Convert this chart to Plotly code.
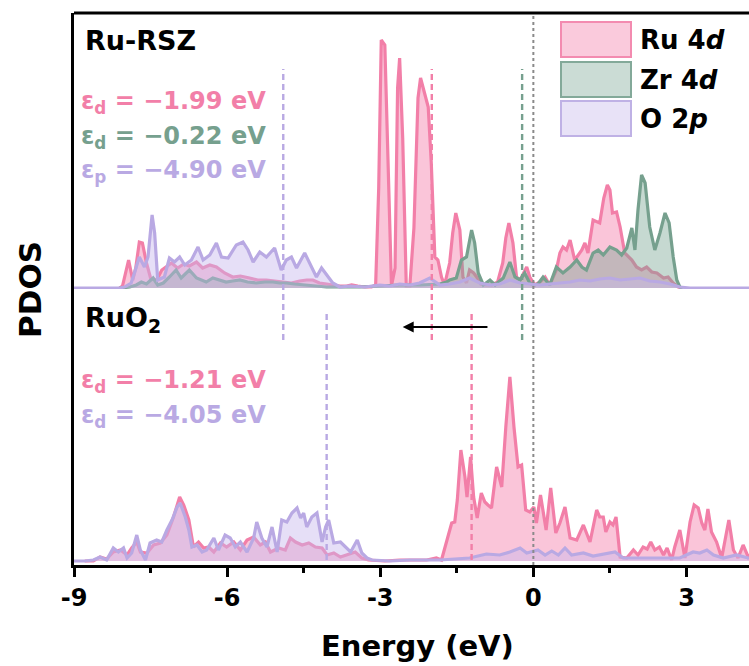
import plotly.graph_objects as go

# ---------------- data (PDOS, arbitrary units) ----------------
# Ru-RSZ panel
rsz_ru_E = [-8.11,-8.05,-7.93,-7.85,-7.79,-7.72,-7.66,-7.58,-7.50,-7.38,-7.28,-7.19,-7.09,-6.97,-6.85,-6.74,-6.60,-6.48,-6.34,-6.21,
            -6.05,-5.89,-5.74,-5.56,-5.40,-5.23,-5.07,-4.91,-4.74,-4.58,-4.44,-4.32,-4.19,-4.05,-3.93,-3.79,-3.66,-3.56,-3.44,-3.30,
            -3.17,-3.09,-3.03,-2.98,-2.91,-2.85,-2.78,-2.71,-2.66,-2.62,-2.56,-2.49,-2.42,-2.34,-2.26,-2.21,-2.13,-2.06,-2.00,-1.93,
            -1.87,-1.80,-1.74,-1.64,-1.58,-1.52,-1.44,-1.38,-1.31,-1.25,-1.17,-1.11,-1.03,-0.93,-0.81,-0.70,-0.60,-0.54,-0.48,-0.40,
            -0.33,-0.26,-0.21,-0.13,-0.07,0.03,0.13,0.23,0.32,0.45,0.52,0.58,0.65,0.72,0.81,0.95,1.01,1.07,1.17,1.30,
            1.38,1.45,1.50,1.55,1.63,1.70,1.79,1.93,2.02,2.12,2.22,2.32,2.42,2.55,2.64,2.74,2.84,2.91]
rsz_ru_v = [0,2,28,8,20,46,45,25,10,8,18,21,25,20,24,22,26,20,23,21,
            15,11,12,10,8,8,7,6,5,7,8,8,5,4,3,2,2,3,2,1,
            1,3,100,248,243,120,2,20,200,230,150,2,2,60,190,210,193,181,125,31,
            28,11,3,25,55,75,58,11,5,18,15,11,4,3,3,6,25,50,65,45,
            11,8,13,21,11,3,6,11,3,18,35,41,38,48,28,38,45,35,68,65,
            90,103,98,75,76,61,35,28,21,18,21,16,15,10,11,5,1,0]

rsz_zr_E = [-8.11,-7.91,-7.78,-7.68,-7.58,-7.45,-7.36,-7.25,-7.13,-7.00,-6.90,-6.81,-6.74,-6.60,-6.52,-6.41,-6.28,-6.15,-6.02,-5.89,
            -5.75,-5.60,-5.43,-5.26,-5.10,-4.97,-4.84,-4.68,-4.45,-4.26,-4.05,-3.79,-3.40,-3.01,-2.62,-2.23,-1.83,-1.70,-1.64,-1.51,
            -1.41,-1.31,-1.21,-1.15,-1.08,-0.98,-0.85,-0.75,-0.59,-0.46,-0.36,-0.26,-0.17,-0.07,0.00,0.09,0.19,0.32,0.45,0.58,
            0.72,0.85,0.95,1.04,1.17,1.27,1.37,1.50,1.63,1.73,1.83,1.93,1.99,2.05,2.12,2.19,2.28,2.38,2.48,2.58,
            2.66,2.74,2.81,2.87,2.93]
rsz_zr_v = [0,1,3,6,4,10,3,5,11,18,10,14,18,10,8,6,10,8,6,7,
            8,6,5,6,6,5,5,4,3,2,1,1,1,2,3,3,4,6,8,10,
            28,31,58,45,15,3,8,3,10,26,11,8,15,5,3,4,11,3,21,15,
            21,28,21,18,35,38,33,41,38,33,40,60,38,78,113,105,61,38,55,75,
            65,31,8,1,0]

rsz_o_E = [-9.00,-8.11,-8.01,-7.88,-7.78,-7.72,-7.62,-7.55,-7.47,-7.42,-7.36,-7.23,-7.13,-7.03,-6.93,-6.83,-6.70,-6.57,-6.47,-6.34,
           -6.21,-6.11,-5.98,-5.82,-5.69,-5.59,-5.49,-5.36,-5.23,-5.07,-4.94,-4.84,-4.74,-4.64,-4.48,-4.35,-4.25,-4.15,-4.05,-3.93,
           -3.79,-3.60,-3.30,-3.01,-2.81,-2.62,-2.42,-2.23,-2.03,-1.83,-1.64,-1.44,-1.25,-1.05,-0.85,-0.66,-0.46,-0.26,-0.07,0.13,
           0.32,0.52,0.72,0.91,1.11,1.30,1.50,1.70,1.89,2.09,2.28,2.48,2.68,2.87,3.07,4.30]
rsz_o_v = [0,0,1,5,21,31,21,31,73,55,8,11,30,26,31,23,28,41,28,33,
           45,31,30,43,46,38,26,36,31,40,18,28,31,20,35,21,11,20,13,5,
           1,2,1,3,2,4,3,5,10,3,4,6,10,5,3,4,8,5,4,3,
           4,5,6,8,7,9,10,8,9,10,7,6,4,1,0,0]

# RuO2 panel
ruo2_ru_E = [-8.79,-8.62,-8.49,-8.36,-8.23,-8.09,-7.96,-7.87,-7.77,-7.70,-7.57,-7.44,-7.31,-7.18,-7.05,-6.93,-6.85,-6.75,-6.66,-6.56,
             -6.46,-6.36,-6.26,-6.13,-6.01,-5.87,-5.74,-5.61,-5.48,-5.35,-5.25,-5.15,-4.99,-4.86,-4.76,-4.66,-4.53,-4.40,-4.27,-4.14,
             -4.04,-3.91,-3.78,-3.65,-3.49,-3.36,-3.23,-2.91,-2.62,-2.09,-1.90,-1.80,-1.70,-1.60,-1.54,-1.49,-1.42,-1.34,-1.30,-1.23,
             -1.17,-1.10,-1.02,-0.95,-0.89,-0.82,-0.72,-0.62,-0.54,-0.46,-0.38,-0.30,-0.23,-0.15,-0.07,0.01,0.06,0.14,0.25,0.34,
             0.44,0.52,0.62,0.72,0.85,0.98,1.11,1.24,1.30,1.37,1.42,1.50,1.56,1.62,1.70,1.83,1.96,2.05,2.15,2.23,
             2.30,2.38,2.47,2.55,2.62,2.71,2.77,2.87,2.97,3.07,3.15,3.23,3.30,3.36,3.42,3.49,3.59,3.69,3.83,3.92,
             4.01,4.11,4.21,4.28]
ruo2_ru_v = [0,0,4,2,9,11,6,13,19,9,8,16,18,26,44,64,56,41,14,19,
             13,14,9,18,14,19,11,21,24,16,19,9,13,11,23,19,16,18,14,13,
             6,8,4,6,9,3,1,0,1,1,3,1,21,38,39,61,111,84,64,104,
             64,43,68,59,56,53,94,74,134,184,134,94,96,51,49,54,38,66,31,73,
             28,38,54,23,21,36,19,51,44,44,29,39,36,44,4,3,11,6,14,12,
             19,11,14,6,13,1,14,31,3,39,56,53,38,31,52,29,19,3,41,11,
             3,16,4,8]

ruo2_o_E = [-9.00,-8.79,-8.62,-8.49,-8.36,-8.23,-8.13,-8.03,-7.96,-7.87,-7.77,-7.70,-7.60,-7.51,-7.38,-7.28,-7.18,-7.08,-6.98,-6.92,
            -6.82,-6.75,-6.69,-6.59,-6.49,-6.40,-6.26,-6.17,-6.04,-5.94,-5.84,-5.74,-5.61,-5.48,-5.42,-5.32,-5.22,-5.12,-5.02,-4.93,
            -4.83,-4.73,-4.63,-4.56,-4.50,-4.44,-4.34,-4.24,-4.14,-4.07,-4.01,-3.91,-3.78,-3.68,-3.58,-3.45,-3.36,-3.26,-3.16,-2.81,
            -2.42,-1.83,-1.25,-0.92,-0.66,-0.46,-0.26,-0.13,0.09,0.23,0.36,0.49,0.62,0.75,0.98,1.17,1.30,1.50,1.60,1.76,
            2.09,2.48,2.87,3.13,3.26,3.40,3.53,3.72,3.98,4.21,4.30]
ruo2_o_v = [0,0,1,4,1,13,9,13,3,8,26,11,1,18,21,19,31,41,54,58,
            44,31,14,16,9,11,23,11,26,23,14,19,9,23,39,23,14,34,9,41,
            39,48,53,43,48,34,44,48,19,34,41,18,19,14,9,21,8,3,1,0,
            1,1,3,7,6,9,13,8,11,6,10,6,13,6,8,5,6,8,9,3,
            3,3,3,9,8,11,6,3,6,3,3]

# band centres (eV)
rsz_centres = [(-1.99, "ru"), (-0.22, "zr"), (-4.90, "o")]
ruo2_centres = [(-1.21, "ru"), (-4.05, "o")]

x_ticks = [-9, -6, -3, 0, 3]

# ---------------- styling ----------------
LINE = {"ru": "#F27FA8", "zr": "#76A08E", "o": "#B9A9E3"}
FILL = {"ru": "rgba(246,150,185,0.55)", "zr": "rgba(120,165,145,0.42)", "o": "rgba(200,185,238,0.45)"}
FONT = "DejaVu Sans, Liberation Sans, Arial, sans-serif"

L, R, T, B = 74, 0, 13, 101
W, H = 749, 666
PW, PH = W - L - R, H - T - B


def px(xp):
    return (xp - L) / PW


def py(yp):
    return (H - B - yp) / PH


fig = go.Figure()


def add_area(E, v, key, yaxis):
    fig.add_trace(go.Scatter(x=E, y=v, mode="lines", fill="tozeroy",
                             fillcolor=FILL[key], line=dict(color=LINE[key], width=3.2),
                             xaxis="x", yaxis=yaxis, showlegend=False, hoverinfo="skip"))


add_area(rsz_ru_E, rsz_ru_v, "ru", "y2")
add_area(rsz_zr_E, rsz_zr_v, "zr", "y2")
add_area(rsz_o_E, rsz_o_v, "o", "y2")
add_area(ruo2_ru_E, ruo2_ru_v, "ru", "y")
add_area(ruo2_o_E, ruo2_o_v, "o", "y")

shapes = []
# band-centre dashed lines
for e, k in rsz_centres:
    shapes.append(dict(type="line", xref="x", yref="paper", x0=e, x1=e, y0=py(340), y1=py(69),
                       line=dict(color=LINE[k], width=2.4, dash="6px,4px")))
for e, k in ruo2_centres:
    shapes.append(dict(type="line", xref="x", yref="paper", x0=e, x1=e, y0=py(560), y1=py(313),
                       line=dict(color=LINE[k], width=2.4, dash="6px,4px")))
# Fermi level
shapes.append(dict(type="line", xref="x", yref="paper", x0=0, x1=0, y0=0, y1=1,
                   line=dict(color="#8a8a8a", width=2, dash="dot")))
# top frame
shapes.append(dict(type="line", xref="paper", yref="paper", x0=0, x1=1.01, y0=1, y1=1,
                   line=dict(color="black", width=3)))

# legend (drawn)
legend_items = [("ru", "Ru 4<i>d</i>", 22, 57), ("zr", "Zr 4<i>d</i>", 62, 97), ("o", "O 2<i>p</i>", 101, 136)]
annotations = []
for k, label, y0, y1 in legend_items:
    shapes.append(dict(type="rect", xref="paper", yref="paper", x0=px(561), x1=px(631), y0=py(y1), y1=py(y0),
                       fillcolor=FILL[k], line=dict(color=LINE[k], width=2), opacity=0.9))
    annotations.append(dict(xref="paper", yref="paper", x=px(638), y=py((y0 + y1) / 2), xanchor="left",
                            yanchor="middle", showarrow=False, text="<b>" + label + "</b>",
                            font=dict(family=FONT, size=26, color="black")))

def txt(x, y, s, color="black", size=25):
    annotations.append(dict(xref="paper", yref="paper", x=px(x), y=py(y), xanchor="left", yanchor="middle",
                            showarrow=False, text=s, font=dict(family=FONT, size=size, color=color)))

txt(83, 40, "<b>Ru-RSZ</b>", size=27)
txt(79, 102, "<b>ε<sub>d</sub> = −1.99 eV</b>", LINE["ru"], 24)
txt(79, 137, "<b>ε<sub>d</sub> = −0.22 eV</b>", LINE["zr"], 24)
txt(79, 172, "<b>ε<sub>p</sub> = −4.90 eV</b>", LINE["o"], 24)
txt(83, 319, "<b>RuO<sub>2</sub></b>", size=27)
txt(79, 381, "<b>ε<sub>d</sub> = −1.21 eV</b>", LINE["ru"], 24)
txt(79, 416, "<b>ε<sub>d</sub> = −4.05 eV</b>", LINE["o"], 24)

# shift arrow
annotations.append(dict(x=-2.56, y=234, xref="x", yref="y", ax=-0.87, ay=234, axref="x", ayref="y",
                        showarrow=True, arrowhead=2, arrowsize=1.1, arrowwidth=2, arrowcolor="black", text=""))

# axis titles
annotations.append(dict(xref="paper", yref="paper", x=px(417), y=py(646), xanchor="center", yanchor="middle",
                        showarrow=False, text="<b>Energy (eV)</b>", font=dict(family=FONT, size=29, color="black")))
annotations.append(dict(xref="paper", yref="paper", x=px(30), y=py(290), xanchor="center", yanchor="middle",
                        showarrow=False, textangle=-90,
                        text="<b>PDOS</b>", font=dict(family=FONT, size=31, color="black")))

fig.update_layout(
    width=W, height=H, margin=dict(l=L, r=R, t=T, b=B),
    paper_bgcolor="white", plot_bgcolor="white",
    shapes=shapes, annotations=annotations, showlegend=False,
    xaxis=dict(range=[-9, 4.225], anchor="y", tickvals=x_ticks, ticktext=[str(t) for t in x_ticks],
               showline=True, linecolor="black", linewidth=3, ticks="outside", ticklen=9, tickwidth=3,
               tickcolor="black", showgrid=False, zeroline=False,
               tickfont=dict(family=FONT, size=24, color="black", weight="bold"),
               minor=dict(tickvals=[-7.5, -4.5, -1.5, 1.5], ticks="outside", ticklen=5, tickwidth=3,
                          tickcolor="black")),
    yaxis=dict(domain=[0, 0.5], range=[-4, 272], showticklabels=False, showgrid=False, zeroline=False,
               showline=True, linecolor="black", linewidth=3, ticks=""),
    yaxis2=dict(domain=[0.5, 1], range=[-1, 275], anchor="x", showticklabels=False, showgrid=False,
                zeroline=False, showline=True, linecolor="black", linewidth=3, ticks=""),
)

fig.write_html("out.html")
